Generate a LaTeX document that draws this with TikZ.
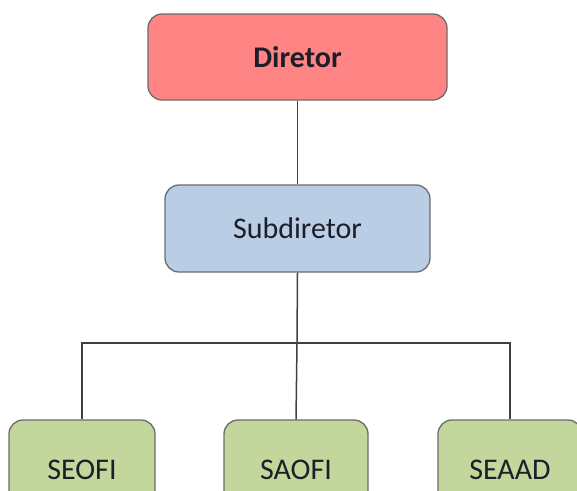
\documentclass[tikz,border=0pt]{standalone}
\usepackage{fontspec}
\setmainfont{Carlito}
\definecolor{redfill}{HTML}{FF8585}
\definecolor{bluefill}{HTML}{B9CDE5}
\definecolor{greenfill}{HTML}{C3D69B}
\definecolor{edge}{HTML}{6B6B6B}
\definecolor{wire}{HTML}{404040}
\definecolor{txt}{HTML}{1E1E28}
\tikzset{
  box/.style={draw=edge, line width=1.3pt, rounded corners=14pt, inner sep=0pt,
    font=\fontsize{30}{32}\selectfont, text=txt},
  wire/.style={draw=wire, line width=1.5pt}
}
\begin{document}
\begin{tikzpicture}[x=1pt,y=-1pt]
\useasboundingbox (0,0) rectangle (577,490);
\clip (0,0) rectangle (577,490);
\node[box, fill=redfill, minimum width=299pt, minimum height=86pt, font=\fontsize{30}{32}\selectfont\bfseries] (dir) at (297.5,57) {Diretor};
\node[box, fill=bluefill, minimum width=265pt, minimum height=87pt] (sub) at (297.5,228.5) {Subdiretor};
\node[box, fill=greenfill, minimum width=146pt, minimum height=100pt] (seofi) at (82,470) {SEOFI};
\node[box, fill=greenfill, minimum width=144pt, minimum height=100pt] (saofi) at (296,470) {SAOFI};
\node[box, fill=greenfill, minimum width=144pt, minimum height=100pt] (seaad) at (510,470) {SEAAD};
\coordinate (bus) at (297,343);
\draw[wire] (dir.south) -- (sub.north);
\draw[wire] (sub.south) -- (bus);
\draw[wire] (seofi.north) |- (bus) -| (seaad.north);
\draw[wire] (bus) -- (saofi.north);
\end{tikzpicture}
\end{document}
